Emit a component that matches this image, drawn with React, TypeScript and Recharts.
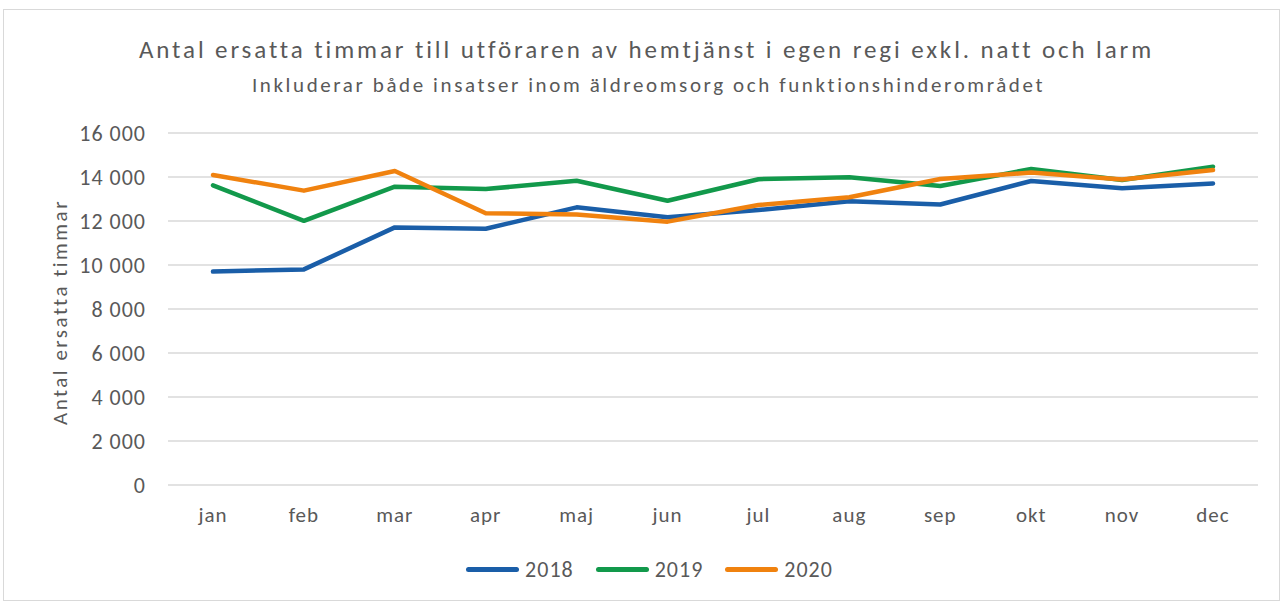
import { LineChart, Line, XAxis, YAxis, CartesianGrid } from 'recharts';

const MONTHS = ['jan', 'feb', 'mar', 'apr', 'maj', 'jun', 'jul', 'aug', 'sep', 'okt', 'nov', 'dec'];
const Y2018 = [9700, 9800, 11710, 11650, 12620, 12170, 12500, 12900, 12750, 13820, 13490, 13710];
const Y2019 = [13620, 12010, 13560, 13450, 13830, 12920, 13900, 13990, 13590, 14360, 13860, 14470];
const Y2020 = [14090, 13380, 14270, 12350, 12300, 11970, 12730, 13080, 13910, 14200, 13890, 14320];
const Y_TICKS = [0, 2000, 4000, 6000, 8000, 10000, 12000, 14000, 16000];

const SERIES = [
  { key: 'y2018', name: '2018', color: '#1a5ea8' },
  { key: 'y2019', name: '2019', color: '#12994b' },
  { key: 'y2020', name: '2020', color: '#f0820f' },
];

const data = MONTHS.map((m, i) => ({ month: m, y2018: Y2018[i], y2019: Y2019[i], y2020: Y2020[i] }));

const FONT = 'Calibri, Carlito, Lato, sans-serif';
const TEXT = '#595959';

const fmt = (v: number) => String(v).replace(/\B(?=(\d{3})+(?!\d))/g, '\u00a0');

export default function App() {
  return (
    <div style={{ position: 'absolute', left: 0, top: 0, width: 1285, height: 602, background: '#fff', fontFamily: FONT, color: TEXT }}>
      <div style={{ position: 'absolute', left: 3, top: 9, width: 1277, height: 592, border: '1px solid #d9d9d9', boxSizing: 'border-box' }} />
      <div style={{ position: 'absolute', left: 0, width: 1293, top: 34, textAlign: 'center', fontSize: 25, letterSpacing: 2.9, whiteSpace: 'nowrap' }}>
        Antal ersatta timmar till utföraren av hemtjänst i egen regi exkl. natt och larm
      </div>
      <div style={{ position: 'absolute', left: 0, width: 1297, top: 72, textAlign: 'center', fontSize: 21, letterSpacing: 2.6, whiteSpace: 'nowrap' }}>
        Inkluderar både insatser inom äldreomsorg och funktionshinderområdet
      </div>
      <div
        style={{
          position: 'absolute', left: 60, top: 312, transform: 'translate(-50%, -50%) rotate(-90deg)',
          fontSize: 21, letterSpacing: 2.5, whiteSpace: 'nowrap',
        }}
      >
        Antal ersatta timmar
      </div>
      <div style={{ position: 'absolute', left: 0, top: 0 }}>
        <LineChart width={1285} height={602} data={data} margin={{ top: 133, right: 27, bottom: 77, left: 68 }}>
          <CartesianGrid vertical={false} stroke="#d9d9d9" strokeWidth={1.5} />
          <XAxis
            dataKey="month"
            axisLine={false}
            tickLine={false}
            tickSize={0}
            tickMargin={22}
            height={40}
            interval={0}
            padding={{ left: 45, right: 45 }}
            tick={{ fill: TEXT, fontSize: 21, fontFamily: FONT, letterSpacing: 1 }}
          />
          <YAxis
            domain={[0, 16000]}
            ticks={Y_TICKS}
            width={100}
            axisLine={false}
            tickLine={false}
            tickSize={0}
            tickMargin={22}
            tickFormatter={fmt}
            tick={{ fill: TEXT, fontSize: 22, fontFamily: FONT, letterSpacing: 1 }}
          />
          {SERIES.map((s) => (
            <Line
              key={s.key}
              type="linear"
              dataKey={s.key}
              name={s.name}
              stroke={s.color}
              strokeWidth={4.5}
              strokeLinejoin="round"
              strokeLinecap="round"
              dot={false}
              activeDot={false}
              isAnimationActive={false}
            />
          ))}
        </LineChart>
      </div>
      <div style={{ position: 'absolute', left: 0, width: 1299, top: 556, display: 'flex', justifyContent: 'center', gap: 22, fontSize: 22, letterSpacing: 1 }}>
        {SERIES.map((s) => (
          <div key={s.key} style={{ display: 'flex', alignItems: 'center', gap: 6 }}>
            <div style={{ width: 53, height: 5, borderRadius: 3, background: s.color }} />
            <span>{s.name}</span>
          </div>
        ))}
      </div>
    </div>
  );
}
